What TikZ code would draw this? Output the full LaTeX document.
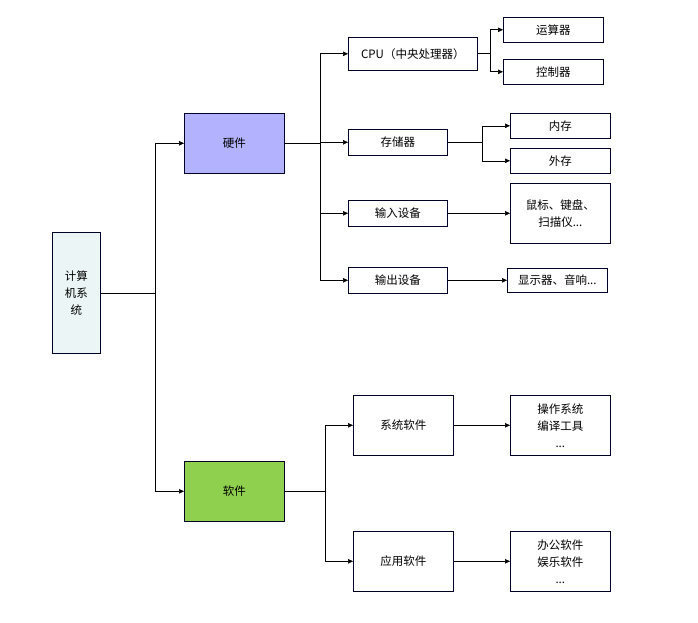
\documentclass[tikz,border=0pt]{standalone}
\usepackage{fontspec}
\setmainfont{Noto Sans CJK SC}
\usetikzlibrary{arrows.meta}
\begin{document}
\begin{tikzpicture}[x=1pt,y=-1pt,
 bx/.style={draw=black!85!blue,line width=0.6pt,minimum width=#1,inner sep=1pt,align=center,font=\fontsize{11.5}{17}\selectfont,anchor=north west},
 bx/.default=100pt,
 arr/.style={-{Triangle[length=5pt,width=4.5pt]},line width=0.6pt},
 ln/.style={line width=0.6pt}]
\useasboundingbox (0,0) rectangle (698,623);
\node[bx=48pt,minimum height=121pt,fill=teal!8] (root) at (52,232) {计算\\机系\\统};
\node[bx,minimum height=60pt,fill=blue!30!white] (hw) at (184,113) {硬件};
\node[bx,minimum height=60pt,fill={rgb,255:red,143;green,209;blue,79}] (sw) at (184,461) {软件};
\node[bx=129pt,minimum height=33pt] (cpu) at (348,37) {CPU（中央处理器）};
\node[bx,minimum height=25pt] (alu) at (503,17) {运算器};
\node[bx,minimum height=25pt] (ctl) at (503,59) {控制器};
\node[bx=99pt,minimum height=26pt] (mem) at (348,129) {存储器};
\node[bx,minimum height=25pt] (ram) at (510,113) {内存};
\node[bx,minimum height=25pt] (disk) at (510,148) {外存};
\node[bx=99pt,minimum height=26pt] (in) at (348,200) {输入设备};
\node[bx,minimum height=60pt] (indev) at (510,183) {鼠标、键盘、\\扫描仪...};
\node[bx=99pt,minimum height=26pt] (out) at (348,267) {输出设备};
\node[bx,minimum height=24pt] (outdev) at (507,268) {显示器、音响...};
\node[bx,minimum height=60pt] (sys) at (353,395) {系统软件};
\node[bx,minimum height=60pt] (sysl) at (510,395) {操作系统\\编译工具\\...};
\node[bx,minimum height=60pt] (app) at (353,531) {应用软件};
\node[bx,minimum height=60pt] (appl) at (510,531) {办公软件\\娱乐软件\\...};
\coordinate (j1) at (root.east -| 155,0);
\draw[ln] (root.east) -- (j1);
\draw[arr] (j1) |- (hw.west);
\draw[arr] (j1) |- (sw.west);
\coordinate (j2) at (hw.east -| 320,0);
\draw[ln] (hw.east) -- (j2);
\draw[arr] (j2) |- (cpu.west);
\draw[arr] (j2) |- (mem.west);
\draw[arr] (j2) |- (in.west);
\draw[arr] (j2) |- (out.west);
\coordinate (j3) at (cpu.east -| 490,0);
\draw[ln] (cpu.east) -- (j3);
\draw[arr] (j3) |- (alu.west);
\draw[arr] (j3) |- (ctl.west);
\coordinate (j4) at (mem.east -| 482,0);
\draw[ln] (mem.east) -- (j4);
\draw[arr] (j4) |- (ram.west);
\draw[arr] (j4) |- (disk.west);
\draw[arr] (in.east) -- (in.east -| indev.west);
\draw[arr] (out.east) -- (out.east -| outdev.west);
\coordinate (j5) at (sw.east -| 325,0);
\draw[ln] (sw.east) -- (j5);
\draw[arr] (j5) |- (sys.west);
\draw[arr] (j5) |- (app.west);
\draw[arr] (sys.east) -- (sysl.west);
\draw[arr] (app.east) -- (appl.west);
\end{tikzpicture}
\end{document}
